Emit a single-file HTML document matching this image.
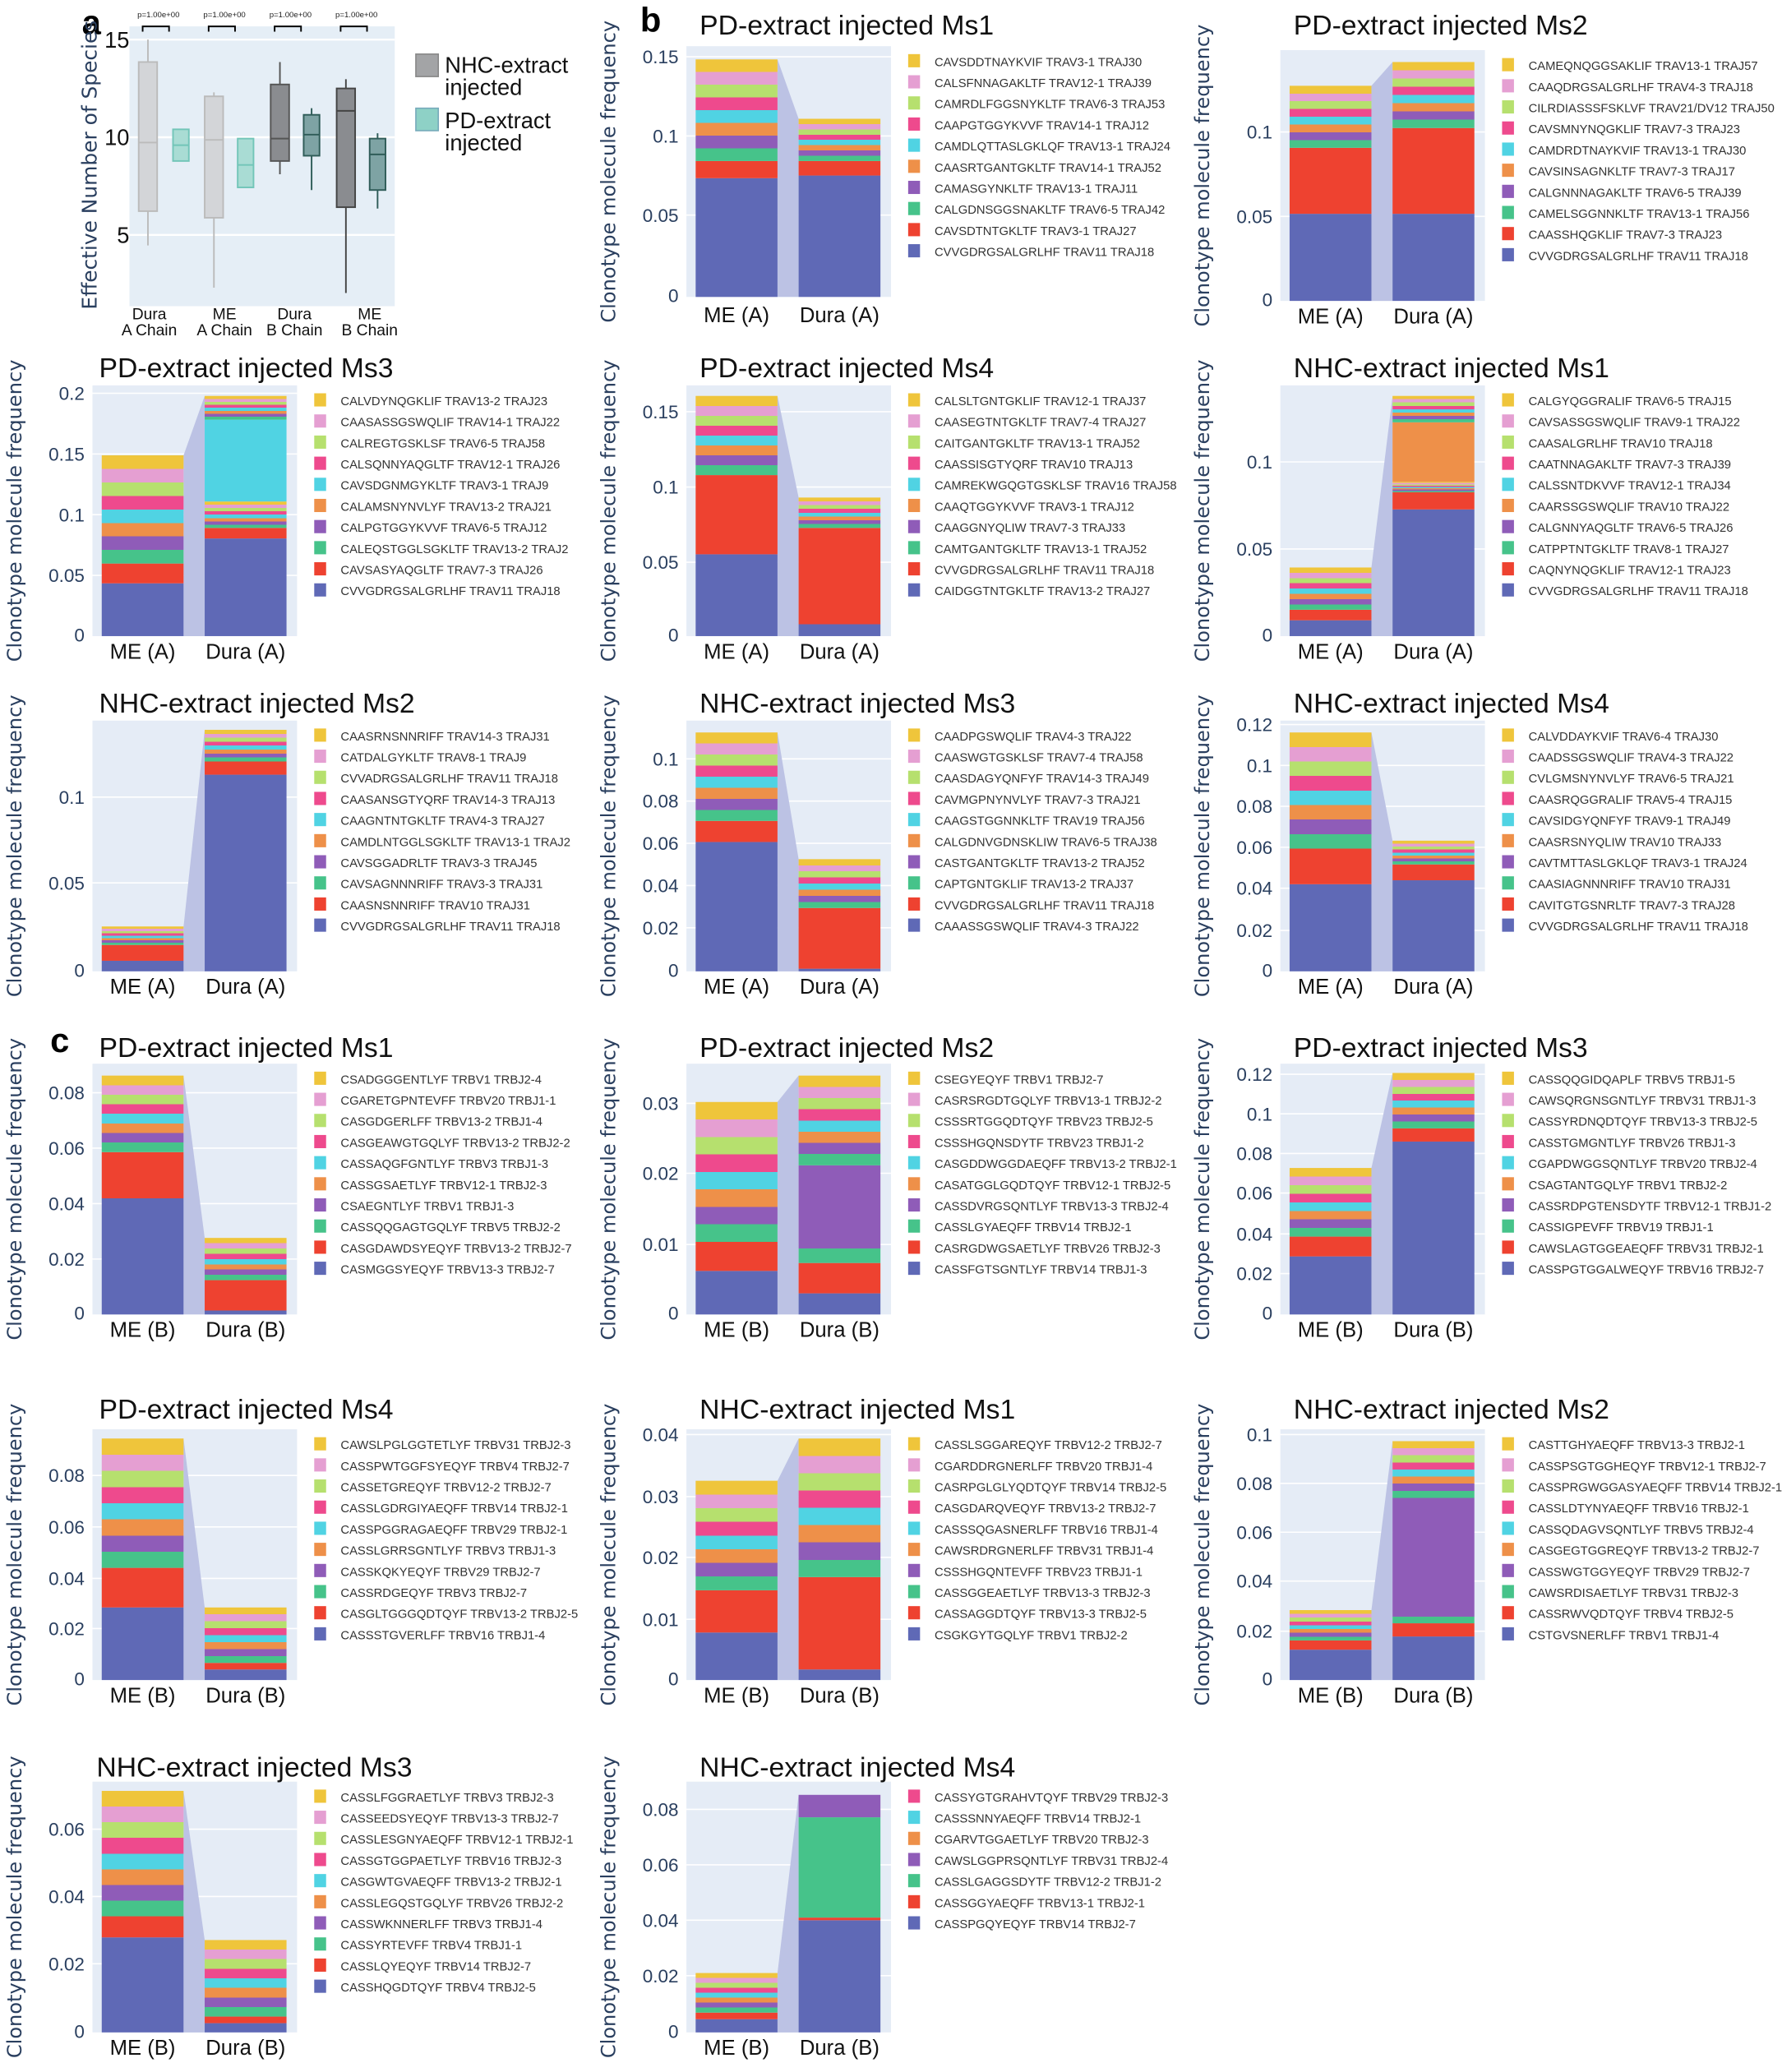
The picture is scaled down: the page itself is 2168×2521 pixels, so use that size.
<!DOCTYPE html>
<html><head><meta charset="utf-8"><style>
body{margin:0;background:#fff}
svg{display:block}
.t{font-family:"Liberation Sans Narrow","Liberation Sans",sans-serif;font-size:21px;fill:#111}
.k{font-family:"Liberation Sans Narrow","Liberation Sans",sans-serif;font-size:14px;fill:#2a3f5f;text-anchor:end}
.x{font-family:"Liberation Sans Narrow","Liberation Sans",sans-serif;font-size:16px;fill:#111;text-anchor:middle}
.y{font-family:"DejaVu Sans",sans-serif;font-size:15px;fill:#2a3f5f;text-anchor:middle}
.l{font-family:"Liberation Sans Narrow","Liberation Sans",sans-serif;font-size:9.2px;fill:#333}
.big{font-family:"Liberation Sans",sans-serif;font-size:26px;font-weight:bold;fill:#000}
</style></head><body>
<svg width="2168" height="2521" viewBox="0 0 1350 1570" xmlns="http://www.w3.org/2000/svg">
<defs>
<linearGradient id="g" x1="0" y1="0" x2="0" y2="1">
<stop offset="0" stop-color="#EFC53B"/><stop offset=".125" stop-color="#EFC53B"/>
<stop offset=".125" stop-color="#E59FD2"/><stop offset=".25" stop-color="#E59FD2"/>
<stop offset=".25" stop-color="#B6E06E"/><stop offset=".375" stop-color="#B6E06E"/>
<stop offset=".375" stop-color="#EE4A8D"/><stop offset=".5" stop-color="#EE4A8D"/>
<stop offset=".5" stop-color="#50D3E3"/><stop offset=".625" stop-color="#50D3E3"/>
<stop offset=".625" stop-color="#EE9049"/><stop offset=".75" stop-color="#EE9049"/>
<stop offset=".75" stop-color="#8F5CB8"/><stop offset=".875" stop-color="#8F5CB8"/>
<stop offset=".875" stop-color="#46C38A"/><stop offset="1" stop-color="#46C38A"/>
</linearGradient>
<g id="leg">
<rect x="168" y="-184" width="9" height="10" fill="#EFC53B"/>
<rect x="168" y="-168" width="9" height="10" fill="#E59FD2"/>
<rect x="168" y="-152" width="9" height="10" fill="#B6E06E"/>
<rect x="168" y="-136" width="9" height="10" fill="#EE4A8D"/>
<rect x="168" y="-120" width="9" height="10" fill="#50D3E3"/>
<rect x="168" y="-104" width="9" height="10" fill="#EE9049"/>
<rect x="168" y="-88" width="9" height="10" fill="#8F5CB8"/>
<rect x="168" y="-72" width="9" height="10" fill="#46C38A"/>
<rect x="168" y="-56" width="9" height="10" fill="#EE4230"/>
<rect x="168" y="-40" width="9" height="10" fill="#5F69B6"/>
</g>
</defs>

<!-- Panel a -->
<text class="big" x="62" y="26">a</text>
<rect x="98" y="20" width="201" height="212" fill="#e5eef6"/>
<line x1="98" y1="30" x2="299" y2="30" stroke="#fff" stroke-width="1.5"/>
<line x1="98" y1="104" x2="299" y2="104" stroke="#fff" stroke-width="1.5"/>
<line x1="98" y1="178" x2="299" y2="178" stroke="#fff" stroke-width="1.5"/>
<text class="y" transform="translate(73,125) rotate(-90)" style="font-size:15.5px">Effective Number of Species</text>
<text class="k" style="font-size:17px;fill:#111" x="98" y="36">15</text>
<text class="k" style="font-size:17px;fill:#111" x="98" y="110">10</text>
<text class="k" style="font-size:17px;fill:#111" x="98" y="184">5</text>
<g font-family="Liberation Sans Narrow,sans-serif" font-size="6" fill="#222" text-anchor="middle">
<text x="120" y="13">p=1.00e+00</text><text x="170" y="13">p=1.00e+00</text><text x="220" y="13">p=1.00e+00</text><text x="270" y="13">p=1.00e+00</text></g>
<g stroke="#000" fill="none" stroke-width="1.2">
<path d="M108 24V20H128V24M158 24V20H178V24M208 24V20H228V24M258 24V20H278V24"/></g>
<g stroke-width="1.2">
<line x1="112" y1="30" x2="112" y2="186" stroke="#bbb"/>
<rect x="105" y="47" width="14" height="113" fill="#d3d5d8" stroke="#bbb"/>
<line x1="105" y1="108" x2="119" y2="108" stroke="#bbb"/>
<rect x="131" y="98" width="12" height="24" fill="#a9dcd4" stroke="#72c5b8"/>
<line x1="131" y1="110" x2="143" y2="110" stroke="#72c5b8"/>
<line x1="162" y1="70" x2="162" y2="218" stroke="#bbb"/>
<rect x="155" y="73" width="14" height="92" fill="#d3d5d8" stroke="#bbb"/>
<line x1="155" y1="106" x2="169" y2="106" stroke="#bbb"/>
<rect x="180" y="105" width="12" height="37" fill="#a9dcd4" stroke="#72c5b8"/>
<line x1="180" y1="125" x2="192" y2="125" stroke="#72c5b8"/>
<line x1="212" y1="47" x2="212" y2="132" stroke="#555"/>
<rect x="205" y="64" width="14" height="58" fill="#8a8c90" stroke="#555"/>
<line x1="205" y1="105" x2="219" y2="105" stroke="#555"/>
<line x1="236" y1="82" x2="236" y2="144" stroke="#2f5c58"/>
<rect x="230" y="87" width="12" height="31" fill="#7ea3a4" stroke="#2f5c58"/>
<line x1="230" y1="102" x2="242" y2="102" stroke="#2f5c58"/>
<line x1="262" y1="60" x2="262" y2="222" stroke="#444"/>
<rect x="255" y="67" width="14" height="90" fill="#8a8c90" stroke="#444"/>
<line x1="255" y1="84" x2="269" y2="84" stroke="#444"/>
<line x1="286" y1="101" x2="286" y2="158" stroke="#2f5c58"/>
<rect x="280" y="105" width="12" height="39" fill="#7ea3a4" stroke="#2f5c58"/>
<line x1="280" y1="117" x2="292" y2="117" stroke="#2f5c58"/>
</g>
<g font-family="Liberation Sans Narrow,sans-serif" font-size="12" fill="#111" text-anchor="middle">
<text x="113" y="242">Dura</text><text x="113" y="254">A Chain</text>
<text x="170" y="242">ME</text><text x="170" y="254">A Chain</text>
<text x="223" y="242">Dura</text><text x="223" y="254">B Chain</text>
<text x="280" y="242">ME</text><text x="280" y="254">B Chain</text></g>
<rect x="315" y="41" width="17" height="17" fill="#a3a4a6" stroke="#888"/>
<rect x="315" y="82" width="17" height="17" fill="#8ed1c6" stroke="#7ab"/>
<g font-family="Liberation Sans Narrow,Liberation Sans,sans-serif" font-size="17" fill="#111">
<text x="337" y="55">NHC-extract</text><text x="337" y="72">injected</text>
<text x="337" y="97">PD-extract</text><text x="337" y="114">injected</text></g>

<text class="big" x="485" y="24">b</text>
<text class="big" x="38" y="797">c</text>

<!-- PDa1 -->
<g transform="translate(520,225)">
<rect x="0" y="-190" width="155" height="190" fill="#e5ecf6"/>
<g stroke="#fff"><line x1="0" y1="-182" x2="155" y2="-182"/><line x1="0" y1="-122" x2="155" y2="-122"/><line x1="0" y1="-62" x2="155" y2="-62"/></g>
<polygon points="69,-180 85,-135 85,0 69,0" fill="#bcc2e4"/>
<rect x="7" y="-90" width="62" height="90" fill="#5F69B6"/><rect x="7" y="-103" width="62" height="13" fill="#EE4230"/><rect x="7" y="-180" width="62" height="77" fill="url(#g)"/>
<rect x="85" y="-92" width="62" height="92" fill="#5F69B6"/><rect x="85" y="-103" width="62" height="11" fill="#EE4230"/><rect x="85" y="-135" width="62" height="32" fill="url(#g)"/>
<text class="k" x="-6" y="-177">0.15</text><text class="k" x="-6" y="-117">0.1</text><text class="k" x="-6" y="-57">0.05</text><text class="k" x="-6" y="4">0</text>
<text class="x" x="38" y="19">ME (A)</text><text class="x" x="116" y="19">Dura (A)</text>
<text class="t" x="10" y="-199">PD-extract injected Ms1</text>
<text class="y" transform="translate(-54,-95) rotate(-90)">Clonotype molecule frequency</text>
<use href="#leg"/>
<g class="l"><text x="188" y="-175">CAVSDDTNAYKVIF TRAV3-1 TRAJ30</text><text x="188" y="-159">CALSFNNAGAKLTF TRAV12-1 TRAJ39</text><text x="188" y="-143">CAMRDLFGGSNYKLTF TRAV6-3 TRAJ53</text><text x="188" y="-127">CAAPGTGGYKVVF TRAV14-1 TRAJ12</text><text x="188" y="-111">CAMDLQTTASLGKLQF TRAV13-1 TRAJ24</text><text x="188" y="-95">CAASRTGANTGKLTF TRAV14-1 TRAJ52</text><text x="188" y="-79">CAMASGYNKLTF TRAV13-1 TRAJ11</text><text x="188" y="-63">CALGDNSGGSNAKLTF TRAV6-5 TRAJ42</text><text x="188" y="-47">CAVSDTNTGKLTF TRAV3-1 TRAJ27</text><text x="188" y="-31">CVVGDRGSALGRLHF TRAV11 TRAJ18</text></g>
</g>

<!-- PDa2 -->
<g transform="translate(970,228)">
<rect x="0" y="-190" width="155" height="190" fill="#e5ecf6"/>
<g stroke="#fff"><line x1="0" y1="-128" x2="155" y2="-128"/><line x1="0" y1="-64" x2="155" y2="-64"/></g>
<polygon points="69,-163 85,-181 85,0 69,0" fill="#bcc2e4"/>
<rect x="7" y="-66" width="62" height="66" fill="#5F69B6"/><rect x="7" y="-116" width="62" height="50" fill="#EE4230"/><rect x="7" y="-163" width="62" height="47" fill="url(#g)"/>
<rect x="85" y="-66" width="62" height="66" fill="#5F69B6"/><rect x="85" y="-131" width="62" height="65" fill="#EE4230"/><rect x="85" y="-181" width="62" height="50" fill="url(#g)"/>
<text class="k" x="-6" y="-123">0.1</text><text class="k" x="-6" y="-59">0.05</text><text class="k" x="-6" y="4">0</text>
<text class="x" x="38" y="17">ME (A)</text><text class="x" x="116" y="17">Dura (A)</text>
<text class="t" x="10" y="-202">PD-extract injected Ms2</text>
<text class="y" transform="translate(-54,-95) rotate(-90)">Clonotype molecule frequency</text>
<use href="#leg"/>
<g class="l"><text x="188" y="-175">CAMEQNQGGSAKLIF TRAV13-1 TRAJ57</text><text x="188" y="-159">CAAQDRGSALGRLHF TRAV4-3 TRAJ18</text><text x="188" y="-143">CILRDIASSSFSKLVF TRAV21/DV12 TRAJ50</text><text x="188" y="-127">CAVSMNYNQGKLIF TRAV7-3 TRAJ23</text><text x="188" y="-111">CAMDRDTNAYKVIF TRAV13-1 TRAJ30</text><text x="188" y="-95">CAVSINSAGNKLTF TRAV7-3 TRAJ17</text><text x="188" y="-79">CALGNNNAGAKLTF TRAV6-5 TRAJ39</text><text x="188" y="-63">CAMELSGGNNKLTF TRAV13-1 TRAJ56</text><text x="188" y="-47">CAASSHQGKLIF TRAV7-3 TRAJ23</text><text x="188" y="-31">CVVGDRGSALGRLHF TRAV11 TRAJ18</text></g>
</g>

<!-- PDa3 -->
<g transform="translate(70,482)">
<rect x="0" y="-190" width="155" height="190" fill="#e5ecf6"/>
<g stroke="#fff"><line x1="0" y1="-184" x2="155" y2="-184"/><line x1="0" y1="-138" x2="155" y2="-138"/><line x1="0" y1="-92" x2="155" y2="-92"/><line x1="0" y1="-46" x2="155" y2="-46"/></g>
<polygon points="69,-137 85,-182 85,0 69,0" fill="#bcc2e4"/>
<rect x="7" y="-40" width="62" height="40" fill="#5F69B6"/><rect x="7" y="-55" width="62" height="15" fill="#EE4230"/><rect x="7" y="-137" width="62" height="82" fill="url(#g)"/>
<rect x="85" y="-74" width="62" height="74" fill="#5F69B6"/><rect x="85" y="-82" width="62" height="8" fill="#EE4230"/><rect x="85" y="-102" width="62" height="20" fill="url(#g)"/><rect x="85" y="-164" width="62" height="62" fill="#50D3E3"/><rect x="85" y="-182" width="62" height="18" fill="url(#g)"/>
<text class="k" x="-6" y="-179">0.2</text><text class="k" x="-6" y="-133">0.15</text><text class="k" x="-6" y="-87">0.1</text><text class="k" x="-6" y="-41">0.05</text><text class="k" x="-6" y="4">0</text>
<text class="x" x="38" y="17">ME (A)</text><text class="x" x="116" y="17">Dura (A)</text>
<text class="t" x="5" y="-196">PD-extract injected Ms3</text>
<text class="y" transform="translate(-54,-95) rotate(-90)">Clonotype molecule frequency</text>
<use href="#leg"/>
<g class="l"><text x="188" y="-175">CALVDYNQGKLIF TRAV13-2 TRAJ23</text><text x="188" y="-159">CAASASSGSWQLIF TRAV14-1 TRAJ22</text><text x="188" y="-143">CALREGTGSKLSF TRAV6-5 TRAJ58</text><text x="188" y="-127">CALSQNNYAQGLTF TRAV12-1 TRAJ26</text><text x="188" y="-111">CAVSDGNMGYKLTF TRAV3-1 TRAJ9</text><text x="188" y="-95">CALAMSNYNVLYF TRAV13-2 TRAJ21</text><text x="188" y="-79">CALPGTGGYKVVF TRAV6-5 TRAJ12</text><text x="188" y="-63">CALEQSTGGLSGKLTF TRAV13-2 TRAJ2</text><text x="188" y="-47">CAVSASYAQGLTF TRAV7-3 TRAJ26</text><text x="188" y="-31">CVVGDRGSALGRLHF TRAV11 TRAJ18</text></g>
</g>

<!-- PDa4 -->
<g transform="translate(520,482)">
<rect x="0" y="-190" width="155" height="190" fill="#e5ecf6"/>
<g stroke="#fff"><line x1="0" y1="-170" x2="155" y2="-170"/><line x1="0" y1="-113" x2="155" y2="-113"/><line x1="0" y1="-56" x2="155" y2="-56"/></g>
<polygon points="69,-182 85,-105 85,0 69,0" fill="#bcc2e4"/>
<rect x="7" y="-62" width="62" height="62" fill="#5F69B6"/><rect x="7" y="-122" width="62" height="60" fill="#EE4230"/><rect x="7" y="-182" width="62" height="60" fill="url(#g)"/>
<rect x="85" y="-9" width="62" height="9" fill="#5F69B6"/><rect x="85" y="-82" width="62" height="73" fill="#EE4230"/><rect x="85" y="-105" width="62" height="23" fill="url(#g)"/>
<text class="k" x="-6" y="-165">0.15</text><text class="k" x="-6" y="-108">0.1</text><text class="k" x="-6" y="-51">0.05</text><text class="k" x="-6" y="4">0</text>
<text class="x" x="38" y="17">ME (A)</text><text class="x" x="116" y="17">Dura (A)</text>
<text class="t" x="10" y="-196">PD-extract injected Ms4</text>
<text class="y" transform="translate(-54,-95) rotate(-90)">Clonotype molecule frequency</text>
<use href="#leg"/>
<g class="l"><text x="188" y="-175">CALSLTGNTGKLIF TRAV12-1 TRAJ37</text><text x="188" y="-159">CAASEGTNTGKLTF TRAV7-4 TRAJ27</text><text x="188" y="-143">CAITGANTGKLTF TRAV13-1 TRAJ52</text><text x="188" y="-127">CAASSISGTYQRF TRAV10 TRAJ13</text><text x="188" y="-111">CAMREKWGQGTGSKLSF TRAV16 TRAJ58</text><text x="188" y="-95">CAAQTGGYKVVF TRAV3-1 TRAJ12</text><text x="188" y="-79">CAAGGNYQLIW TRAV7-3 TRAJ33</text><text x="188" y="-63">CAMTGANTGKLTF TRAV13-1 TRAJ52</text><text x="188" y="-47">CVVGDRGSALGRLHF TRAV11 TRAJ18</text><text x="188" y="-31">CAIDGGTNTGKLTF TRAV13-2 TRAJ27</text></g>
</g>

<!-- NHCa1 -->
<g transform="translate(970,482)">
<rect x="0" y="-190" width="155" height="190" fill="#e5ecf6"/>
<g stroke="#fff"><line x1="0" y1="-132" x2="155" y2="-132"/><line x1="0" y1="-66" x2="155" y2="-66"/></g>
<polygon points="69,-52 85,-182 85,0 69,0" fill="#bcc2e4"/>
<rect x="7" y="-12" width="62" height="12" fill="#5F69B6"/><rect x="7" y="-20" width="62" height="8" fill="#EE4230"/><rect x="7" y="-52" width="62" height="32" fill="url(#g)"/>
<rect x="85" y="-96" width="62" height="96" fill="#5F69B6"/><rect x="85" y="-109" width="62" height="13" fill="#EE4230"/><rect x="85" y="-117" width="62" height="8" fill="url(#g)"/><rect x="85" y="-162" width="62" height="45" fill="#EE9049"/><rect x="85" y="-182" width="62" height="20" fill="url(#g)"/>
<text class="k" x="-6" y="-127">0.1</text><text class="k" x="-6" y="-61">0.05</text><text class="k" x="-6" y="4">0</text>
<text class="x" x="38" y="17">ME (A)</text><text class="x" x="116" y="17">Dura (A)</text>
<text class="t" x="10" y="-196">NHC-extract injected Ms1</text>
<text class="y" transform="translate(-54,-95) rotate(-90)">Clonotype molecule frequency</text>
<use href="#leg"/>
<g class="l"><text x="188" y="-175">CALGYQGGRALIF TRAV6-5 TRAJ15</text><text x="188" y="-159">CAVSASSGSWQLIF TRAV9-1 TRAJ22</text><text x="188" y="-143">CAASALGRLHF TRAV10 TRAJ18</text><text x="188" y="-127">CAATNNAGAKLTF TRAV7-3 TRAJ39</text><text x="188" y="-111">CALSSNTDKVVF TRAV12-1 TRAJ34</text><text x="188" y="-95">CAARSSGSWQLIF TRAV10 TRAJ22</text><text x="188" y="-79">CALGNNYAQGLTF TRAV6-5 TRAJ26</text><text x="188" y="-63">CATPPTNTGKLTF TRAV8-1 TRAJ27</text><text x="188" y="-47">CAQNYNQGKLIF TRAV12-1 TRAJ23</text><text x="188" y="-31">CVVGDRGSALGRLHF TRAV11 TRAJ18</text></g>
</g>

<!-- NHCa2 -->
<g transform="translate(70,736)">
<rect x="0" y="-190" width="155" height="190" fill="#e5ecf6"/>
<g stroke="#fff"><line x1="0" y1="-132" x2="155" y2="-132"/><line x1="0" y1="-67" x2="155" y2="-67"/></g>
<polygon points="69,-34 85,-183 85,0 69,0" fill="#bcc2e4"/>
<rect x="7" y="-8" width="62" height="8" fill="#5F69B6"/><rect x="7" y="-20" width="62" height="12" fill="#EE4230"/><rect x="7" y="-34" width="62" height="14" fill="url(#g)"/>
<rect x="85" y="-149" width="62" height="149" fill="#5F69B6"/><rect x="85" y="-159" width="62" height="10" fill="#EE4230"/><rect x="85" y="-183" width="62" height="24" fill="url(#g)"/>
<text class="k" x="-6" y="-127">0.1</text><text class="k" x="-6" y="-62">0.05</text><text class="k" x="-6" y="4">0</text>
<text class="x" x="38" y="17">ME (A)</text><text class="x" x="116" y="17">Dura (A)</text>
<text class="t" x="5" y="-196">NHC-extract injected Ms2</text>
<text class="y" transform="translate(-54,-95) rotate(-90)">Clonotype molecule frequency</text>
<use href="#leg"/>
<g class="l"><text x="188" y="-175">CAASRNSNNRIFF TRAV14-3 TRAJ31</text><text x="188" y="-159">CATDALGYKLTF TRAV8-1 TRAJ9</text><text x="188" y="-143">CVVADRGSALGRLHF TRAV11 TRAJ18</text><text x="188" y="-127">CAASANSGTYQRF TRAV14-3 TRAJ13</text><text x="188" y="-111">CAAGNTNTGKLTF TRAV4-3 TRAJ27</text><text x="188" y="-95">CAMDLNTGGLSGKLTF TRAV13-1 TRAJ2</text><text x="188" y="-79">CAVSGGADRLTF TRAV3-3 TRAJ45</text><text x="188" y="-63">CAVSAGNNNRIFF TRAV3-3 TRAJ31</text><text x="188" y="-47">CAASNSNNRIFF TRAV10 TRAJ31</text><text x="188" y="-31">CVVGDRGSALGRLHF TRAV11 TRAJ18</text></g>
</g>

<!-- NHCa3 -->
<g transform="translate(520,736)">
<rect x="0" y="-190" width="155" height="190" fill="#e5ecf6"/>
<g stroke="#fff"><line x1="0" y1="-161" x2="155" y2="-161"/><line x1="0" y1="-129" x2="155" y2="-129"/><line x1="0" y1="-97" x2="155" y2="-97"/><line x1="0" y1="-65" x2="155" y2="-65"/><line x1="0" y1="-33" x2="155" y2="-33"/></g>
<polygon points="69,-181 85,-85 85,0 69,0" fill="#bcc2e4"/>
<rect x="7" y="-98" width="62" height="98" fill="#5F69B6"/><rect x="7" y="-114" width="62" height="16" fill="#EE4230"/><rect x="7" y="-181" width="62" height="67" fill="url(#g)"/>
<rect x="85" y="-2" width="62" height="2" fill="#5F69B6"/><rect x="85" y="-48" width="62" height="46" fill="#EE4230"/><rect x="85" y="-85" width="62" height="37" fill="url(#g)"/>
<text class="k" x="-6" y="-156">0.1</text><text class="k" x="-6" y="-124">0.08</text><text class="k" x="-6" y="-92">0.06</text><text class="k" x="-6" y="-60">0.04</text><text class="k" x="-6" y="-28">0.02</text><text class="k" x="-6" y="4">0</text>
<text class="x" x="38" y="17">ME (A)</text><text class="x" x="116" y="17">Dura (A)</text>
<text class="t" x="10" y="-196">NHC-extract injected Ms3</text>
<text class="y" transform="translate(-54,-95) rotate(-90)">Clonotype molecule frequency</text>
<use href="#leg"/>
<g class="l"><text x="188" y="-175">CAADPGSWQLIF TRAV4-3 TRAJ22</text><text x="188" y="-159">CAASWGTGSKLSF TRAV7-4 TRAJ58</text><text x="188" y="-143">CAASDAGYQNFYF TRAV14-3 TRAJ49</text><text x="188" y="-127">CAVMGPNYNVLYF TRAV7-3 TRAJ21</text><text x="188" y="-111">CAAGSTGGNNKLTF TRAV19 TRAJ56</text><text x="188" y="-95">CALGDNVGDNSKLIW TRAV6-5 TRAJ38</text><text x="188" y="-79">CASTGANTGKLTF TRAV13-2 TRAJ52</text><text x="188" y="-63">CAPTGNTGKLIF TRAV13-2 TRAJ37</text><text x="188" y="-47">CVVGDRGSALGRLHF TRAV11 TRAJ18</text><text x="188" y="-31">CAAASSGSWQLIF TRAV4-3 TRAJ22</text></g>
</g>

<!-- NHCa4 -->
<g transform="translate(970,736)">
<rect x="0" y="-190" width="155" height="190" fill="#e5ecf6"/>
<g stroke="#fff"><line x1="0" y1="-187" x2="155" y2="-187"/><line x1="0" y1="-156" x2="155" y2="-156"/><line x1="0" y1="-125" x2="155" y2="-125"/><line x1="0" y1="-94" x2="155" y2="-94"/><line x1="0" y1="-63" x2="155" y2="-63"/><line x1="0" y1="-31" x2="155" y2="-31"/></g>
<polygon points="69,-181 85,-99 85,0 69,0" fill="#bcc2e4"/>
<rect x="7" y="-66" width="62" height="66" fill="#5F69B6"/><rect x="7" y="-93" width="62" height="27" fill="#EE4230"/><rect x="7" y="-181" width="62" height="88" fill="url(#g)"/>
<rect x="85" y="-69" width="62" height="69" fill="#5F69B6"/><rect x="85" y="-81" width="62" height="12" fill="#EE4230"/><rect x="85" y="-99" width="62" height="18" fill="url(#g)"/>
<text class="k" x="-6" y="-182">0.12</text><text class="k" x="-6" y="-151">0.1</text><text class="k" x="-6" y="-120">0.08</text><text class="k" x="-6" y="-89">0.06</text><text class="k" x="-6" y="-58">0.04</text><text class="k" x="-6" y="-26">0.02</text><text class="k" x="-6" y="4">0</text>
<text class="x" x="38" y="17">ME (A)</text><text class="x" x="116" y="17">Dura (A)</text>
<text class="t" x="10" y="-196">NHC-extract injected Ms4</text>
<text class="y" transform="translate(-54,-95) rotate(-90)">Clonotype molecule frequency</text>
<use href="#leg"/>
<g class="l"><text x="188" y="-175">CALVDDAYKVIF TRAV6-4 TRAJ30</text><text x="188" y="-159">CAADSSGSWQLIF TRAV4-3 TRAJ22</text><text x="188" y="-143">CVLGMSNYNVLYF TRAV6-5 TRAJ21</text><text x="188" y="-127">CAASRQGGRALIF TRAV5-4 TRAJ15</text><text x="188" y="-111">CAVSIDGYQNFYF TRAV9-1 TRAJ49</text><text x="188" y="-95">CAASRSNYQLIW TRAV10 TRAJ33</text><text x="188" y="-79">CAVTMTTASLGKLQF TRAV3-1 TRAJ24</text><text x="188" y="-63">CAASIAGNNNRIFF TRAV10 TRAJ31</text><text x="188" y="-47">CAVITGTGSNRLTF TRAV7-3 TRAJ28</text><text x="188" y="-31">CVVGDRGSALGRLHF TRAV11 TRAJ18</text></g>
</g>

<!-- PDb1 -->
<g transform="translate(70,996)">
<rect x="0" y="-190" width="155" height="190" fill="#e5ecf6"/>
<g stroke="#fff"><line x1="0" y1="-168" x2="155" y2="-168"/><line x1="0" y1="-126" x2="155" y2="-126"/><line x1="0" y1="-84" x2="155" y2="-84"/><line x1="0" y1="-42" x2="155" y2="-42"/></g>
<polygon points="69,-181 85,-58 85,0 69,0" fill="#bcc2e4"/>
<rect x="7" y="-88" width="62" height="88" fill="#5F69B6"/><rect x="7" y="-123" width="62" height="35" fill="#EE4230"/><rect x="7" y="-181" width="62" height="58" fill="url(#g)"/>
<rect x="85" y="-3" width="62" height="3" fill="#5F69B6"/><rect x="85" y="-26" width="62" height="23" fill="#EE4230"/><rect x="85" y="-58" width="62" height="32" fill="url(#g)"/>
<text class="k" x="-6" y="-163">0.08</text><text class="k" x="-6" y="-121">0.06</text><text class="k" x="-6" y="-79">0.04</text><text class="k" x="-6" y="-37">0.02</text><text class="k" x="-6" y="4">0</text>
<text class="x" x="38" y="17">ME (B)</text><text class="x" x="116" y="17">Dura (B)</text>
<text class="t" x="5" y="-195">PD-extract injected Ms1</text>
<text class="y" transform="translate(-54,-95) rotate(-90)">Clonotype molecule frequency</text>
<use href="#leg"/>
<g class="l"><text x="188" y="-175">CSADGGGENTLYF TRBV1 TRBJ2-4</text><text x="188" y="-159">CGARETGPNTEVFF TRBV20 TRBJ1-1</text><text x="188" y="-143">CASGDGERLFF TRBV13-2 TRBJ1-4</text><text x="188" y="-127">CASGEAWGTGQLYF TRBV13-2 TRBJ2-2</text><text x="188" y="-111">CASSAQGFGNTLYF TRBV3 TRBJ1-3</text><text x="188" y="-95">CASSGSAETLYF TRBV12-1 TRBJ2-3</text><text x="188" y="-79">CSAEGNTLYF TRBV1 TRBJ1-3</text><text x="188" y="-63">CASSQQGAGTGQLYF TRBV5 TRBJ2-2</text><text x="188" y="-47">CASGDAWDSYEQYF TRBV13-2 TRBJ2-7</text><text x="188" y="-31">CASMGGSYEQYF TRBV13-3 TRBJ2-7</text></g>
</g>

<!-- PDb2 -->
<g transform="translate(520,996)">
<rect x="0" y="-190" width="155" height="190" fill="#e5ecf6"/>
<g stroke="#fff"><line x1="0" y1="-160" x2="155" y2="-160"/><line x1="0" y1="-107" x2="155" y2="-107"/><line x1="0" y1="-53" x2="155" y2="-53"/></g>
<polygon points="69,-161 85,-181 85,0 69,0" fill="#bcc2e4"/>
<rect x="7" y="-33" width="62" height="33" fill="#5F69B6"/><rect x="7" y="-55" width="62" height="22" fill="#EE4230"/><rect x="7" y="-161" width="62" height="106" fill="url(#g)"/>
<rect x="85" y="-16" width="62" height="16" fill="#5F69B6"/><rect x="85" y="-39" width="62" height="23" fill="#EE4230"/><rect x="85" y="-50" width="62" height="11" fill="#46C38A"/><rect x="85" y="-113" width="62" height="63" fill="#8F5CB8"/><rect x="85" y="-181" width="62" height="68" fill="url(#g)"/>
<text class="k" x="-6" y="-155">0.03</text><text class="k" x="-6" y="-102">0.02</text><text class="k" x="-6" y="-48">0.01</text><text class="k" x="-6" y="4">0</text>
<text class="x" x="38" y="17">ME (B)</text><text class="x" x="116" y="17">Dura (B)</text>
<text class="t" x="10" y="-195">PD-extract injected Ms2</text>
<text class="y" transform="translate(-54,-95) rotate(-90)">Clonotype molecule frequency</text>
<use href="#leg"/>
<g class="l"><text x="188" y="-175">CSEGYEQYF TRBV1 TRBJ2-7</text><text x="188" y="-159">CASRSRGDTGQLYF TRBV13-1 TRBJ2-2</text><text x="188" y="-143">CSSSRTGGQDTQYF TRBV23 TRBJ2-5</text><text x="188" y="-127">CSSSHGQNSDYTF TRBV23 TRBJ1-2</text><text x="188" y="-111">CASGDDWGGDAEQFF TRBV13-2 TRBJ2-1</text><text x="188" y="-95">CASATGGLGQDTQYF TRBV12-1 TRBJ2-5</text><text x="188" y="-79">CASSDVRGSQNTLYF TRBV13-3 TRBJ2-4</text><text x="188" y="-63">CASSLGYAEQFF TRBV14 TRBJ2-1</text><text x="188" y="-47">CASRGDWGSAETLYF TRBV26 TRBJ2-3</text><text x="188" y="-31">CASSFGTSGNTLYF TRBV14 TRBJ1-3</text></g>
</g>

<!-- PDb3 -->
<g transform="translate(970,996)">
<rect x="0" y="-190" width="155" height="190" fill="#e5ecf6"/>
<g stroke="#fff"><line x1="0" y1="-182" x2="155" y2="-182"/><line x1="0" y1="-152" x2="155" y2="-152"/><line x1="0" y1="-122" x2="155" y2="-122"/><line x1="0" y1="-92" x2="155" y2="-92"/><line x1="0" y1="-61" x2="155" y2="-61"/><line x1="0" y1="-31" x2="155" y2="-31"/></g>
<polygon points="69,-111 85,-183 85,0 69,0" fill="#bcc2e4"/>
<rect x="7" y="-44" width="62" height="44" fill="#5F69B6"/><rect x="7" y="-59" width="62" height="15" fill="#EE4230"/><rect x="7" y="-111" width="62" height="52" fill="url(#g)"/>
<rect x="85" y="-131" width="62" height="131" fill="#5F69B6"/><rect x="85" y="-141" width="62" height="10" fill="#EE4230"/><rect x="85" y="-183" width="62" height="42" fill="url(#g)"/>
<text class="k" x="-6" y="-177">0.12</text><text class="k" x="-6" y="-147">0.1</text><text class="k" x="-6" y="-117">0.08</text><text class="k" x="-6" y="-87">0.06</text><text class="k" x="-6" y="-56">0.04</text><text class="k" x="-6" y="-26">0.02</text><text class="k" x="-6" y="4">0</text>
<text class="x" x="38" y="17">ME (B)</text><text class="x" x="116" y="17">Dura (B)</text>
<text class="t" x="10" y="-195">PD-extract injected Ms3</text>
<text class="y" transform="translate(-54,-95) rotate(-90)">Clonotype molecule frequency</text>
<use href="#leg"/>
<g class="l"><text x="188" y="-175">CASSQQGIDQAPLF TRBV5 TRBJ1-5</text><text x="188" y="-159">CAWSQRGNSGNTLYF TRBV31 TRBJ1-3</text><text x="188" y="-143">CASSYRDNQDTQYF TRBV13-3 TRBJ2-5</text><text x="188" y="-127">CASSTGMGNTLYF TRBV26 TRBJ1-3</text><text x="188" y="-111">CGAPDWGGSQNTLYF TRBV20 TRBJ2-4</text><text x="188" y="-95">CSAGTANTGQLYF TRBV1 TRBJ2-2</text><text x="188" y="-79">CASSRDPGTENSDYTF TRBV12-1 TRBJ1-2</text><text x="188" y="-63">CASSIGPEVFF TRBV19 TRBJ1-1</text><text x="188" y="-47">CAWSLAGTGGEAEQFF TRBV31 TRBJ2-1</text><text x="188" y="-31">CASSPGTGGALWEQYF TRBV16 TRBJ2-7</text></g>
</g>

<!-- PDb4 -->
<g transform="translate(70,1273)">
<rect x="0" y="-190" width="155" height="190" fill="#e5ecf6"/>
<g stroke="#fff"><line x1="0" y1="-155" x2="155" y2="-155"/><line x1="0" y1="-116" x2="155" y2="-116"/><line x1="0" y1="-77" x2="155" y2="-77"/><line x1="0" y1="-39" x2="155" y2="-39"/></g>
<polygon points="69,-183 85,-55 85,0 69,0" fill="#bcc2e4"/>
<rect x="7" y="-55" width="62" height="55" fill="#5F69B6"/><rect x="7" y="-85" width="62" height="30" fill="#EE4230"/><rect x="7" y="-183" width="62" height="98" fill="url(#g)"/>
<rect x="85" y="-8" width="62" height="8" fill="#5F69B6"/><rect x="85" y="-13" width="62" height="5" fill="#EE4230"/><rect x="85" y="-55" width="62" height="42" fill="url(#g)"/>
<text class="k" x="-6" y="-150">0.08</text><text class="k" x="-6" y="-111">0.06</text><text class="k" x="-6" y="-72">0.04</text><text class="k" x="-6" y="-34">0.02</text><text class="k" x="-6" y="4">0</text>
<text class="x" x="38" y="17">ME (B)</text><text class="x" x="116" y="17">Dura (B)</text>
<text class="t" x="5" y="-198">PD-extract injected Ms4</text>
<text class="y" transform="translate(-54,-95) rotate(-90)">Clonotype molecule frequency</text>
<use href="#leg"/>
<g class="l"><text x="188" y="-175">CAWSLPGLGGTETLYF TRBV31 TRBJ2-3</text><text x="188" y="-159">CASSPWTGGFSYEQYF TRBV4 TRBJ2-7</text><text x="188" y="-143">CASSETGREQYF TRBV12-2 TRBJ2-7</text><text x="188" y="-127">CASSLGDRGIYAEQFF TRBV14 TRBJ2-1</text><text x="188" y="-111">CASSPGGRAGAEQFF TRBV29 TRBJ2-1</text><text x="188" y="-95">CASSLGRRSGNTLYF TRBV3 TRBJ1-3</text><text x="188" y="-79">CASSKQKYEQYF TRBV29 TRBJ2-7</text><text x="188" y="-63">CASSRDGEQYF TRBV3 TRBJ2-7</text><text x="188" y="-47">CASGLTGGGQDTQYF TRBV13-2 TRBJ2-5</text><text x="188" y="-31">CASSSTGVERLFF TRBV16 TRBJ1-4</text></g>
</g>

<!-- NHCb1 -->
<g transform="translate(520,1273)">
<rect x="0" y="-190" width="155" height="190" fill="#e5ecf6"/>
<g stroke="#fff"><line x1="0" y1="-186" x2="155" y2="-186"/><line x1="0" y1="-139" x2="155" y2="-139"/><line x1="0" y1="-93" x2="155" y2="-93"/><line x1="0" y1="-46" x2="155" y2="-46"/></g>
<polygon points="69,-151 85,-183 85,0 69,0" fill="#bcc2e4"/>
<rect x="7" y="-36" width="62" height="36" fill="#5F69B6"/><rect x="7" y="-68" width="62" height="32" fill="#EE4230"/><rect x="7" y="-151" width="62" height="83" fill="url(#g)"/>
<rect x="85" y="-8" width="62" height="8" fill="#5F69B6"/><rect x="85" y="-78" width="62" height="70" fill="#EE4230"/><rect x="85" y="-183" width="62" height="105" fill="url(#g)"/>
<text class="k" x="-6" y="-181">0.04</text><text class="k" x="-6" y="-134">0.03</text><text class="k" x="-6" y="-88">0.02</text><text class="k" x="-6" y="-41">0.01</text><text class="k" x="-6" y="4">0</text>
<text class="x" x="38" y="17">ME (B)</text><text class="x" x="116" y="17">Dura (B)</text>
<text class="t" x="10" y="-198">NHC-extract injected Ms1</text>
<text class="y" transform="translate(-54,-95) rotate(-90)">Clonotype molecule frequency</text>
<use href="#leg"/>
<g class="l"><text x="188" y="-175">CASSLSGGAREQYF TRBV12-2 TRBJ2-7</text><text x="188" y="-159">CGARDDRGNERLFF TRBV20 TRBJ1-4</text><text x="188" y="-143">CASRPGLGLYQDTQYF TRBV14 TRBJ2-5</text><text x="188" y="-127">CASGDARQVEQYF TRBV13-2 TRBJ2-7</text><text x="188" y="-111">CASSSQGASNERLFF TRBV16 TRBJ1-4</text><text x="188" y="-95">CAWSRDRGNERLFF TRBV31 TRBJ1-4</text><text x="188" y="-79">CSSSHGQNTEVFF TRBV23 TRBJ1-1</text><text x="188" y="-63">CASSGGEAETLYF TRBV13-3 TRBJ2-3</text><text x="188" y="-47">CASSAGGDTQYF TRBV13-3 TRBJ2-5</text><text x="188" y="-31">CSGKGYTGQLYF TRBV1 TRBJ2-2</text></g>
</g>

<!-- NHCb2 -->
<g transform="translate(970,1273)">
<rect x="0" y="-190" width="155" height="190" fill="#e5ecf6"/>
<g stroke="#fff"><line x1="0" y1="-186" x2="155" y2="-186"/><line x1="0" y1="-149" x2="155" y2="-149"/><line x1="0" y1="-112" x2="155" y2="-112"/><line x1="0" y1="-75" x2="155" y2="-75"/><line x1="0" y1="-37" x2="155" y2="-37"/></g>
<polygon points="69,-53 85,-181 85,0 69,0" fill="#bcc2e4"/>
<rect x="7" y="-23" width="62" height="23" fill="#5F69B6"/><rect x="7" y="-30" width="62" height="7" fill="#EE4230"/><rect x="7" y="-53" width="62" height="23" fill="url(#g)"/>
<rect x="85" y="-33" width="62" height="33" fill="#5F69B6"/><rect x="85" y="-43" width="62" height="10" fill="#EE4230"/><rect x="85" y="-48" width="62" height="5" fill="#46C38A"/><rect x="85" y="-138" width="62" height="90" fill="#8F5CB8"/><rect x="85" y="-181" width="62" height="43" fill="url(#g)"/>
<text class="k" x="-6" y="-181">0.1</text><text class="k" x="-6" y="-144">0.08</text><text class="k" x="-6" y="-107">0.06</text><text class="k" x="-6" y="-70">0.04</text><text class="k" x="-6" y="-32">0.02</text><text class="k" x="-6" y="4">0</text>
<text class="x" x="38" y="17">ME (B)</text><text class="x" x="116" y="17">Dura (B)</text>
<text class="t" x="10" y="-198">NHC-extract injected Ms2</text>
<text class="y" transform="translate(-54,-95) rotate(-90)">Clonotype molecule frequency</text>
<use href="#leg"/>
<g class="l"><text x="188" y="-175">CASTTGHYAEQFF TRBV13-3 TRBJ2-1</text><text x="188" y="-159">CASSPSGTGGHEQYF TRBV12-1 TRBJ2-7</text><text x="188" y="-143">CASSPRGWGGASYAEQFF TRBV14 TRBJ2-1</text><text x="188" y="-127">CASSLDTYNYAEQFF TRBV16 TRBJ2-1</text><text x="188" y="-111">CASSQDAGVSQNTLYF TRBV5 TRBJ2-4</text><text x="188" y="-95">CASGEGTGGREQYF TRBV13-2 TRBJ2-7</text><text x="188" y="-79">CASSWGTGGYEQYF TRBV29 TRBJ2-7</text><text x="188" y="-63">CAWSRDISAETLYF TRBV31 TRBJ2-3</text><text x="188" y="-47">CASSRWVQDTQYF TRBV4 TRBJ2-5</text><text x="188" y="-31">CSTGVSNERLFF TRBV1 TRBJ1-4</text></g>
</g>

<!-- NHCb3 -->
<g transform="translate(70,1540)">
<rect x="0" y="-190" width="155" height="190" fill="#e5ecf6"/>
<g stroke="#fff"><line x1="0" y1="-154" x2="155" y2="-154"/><line x1="0" y1="-103" x2="155" y2="-103"/><line x1="0" y1="-52" x2="155" y2="-52"/></g>
<polygon points="69,-183 85,-70 85,0 69,0" fill="#bcc2e4"/>
<rect x="7" y="-72" width="62" height="72" fill="#5F69B6"/><rect x="7" y="-88" width="62" height="16" fill="#EE4230"/><rect x="7" y="-183" width="62" height="95" fill="url(#g)"/>
<rect x="85" y="-7" width="62" height="7" fill="#5F69B6"/><rect x="85" y="-12" width="62" height="5" fill="#EE4230"/><rect x="85" y="-70" width="62" height="58" fill="url(#g)"/>
<text class="k" x="-6" y="-149">0.06</text><text class="k" x="-6" y="-98">0.04</text><text class="k" x="-6" y="-47">0.02</text><text class="k" x="-6" y="4">0</text>
<text class="x" x="38" y="17">ME (B)</text><text class="x" x="116" y="17">Dura (B)</text>
<text class="t" x="3" y="-194">NHC-extract injected Ms3</text>
<text class="y" transform="translate(-54,-95) rotate(-90)">Clonotype molecule frequency</text>
<use href="#leg"/>
<g class="l"><text x="188" y="-175">CASSLFGGRAETLYF TRBV3 TRBJ2-3</text><text x="188" y="-159">CASSEEDSYEQYF TRBV13-3 TRBJ2-7</text><text x="188" y="-143">CASSLESGNYAEQFF TRBV12-1 TRBJ2-1</text><text x="188" y="-127">CASSGTGGPAETLYF TRBV16 TRBJ2-3</text><text x="188" y="-111">CASGWTGVAEQFF TRBV13-2 TRBJ2-1</text><text x="188" y="-95">CASSLEGQSTGQLYF TRBV26 TRBJ2-2</text><text x="188" y="-79">CASSWKNNERLFF TRBV3 TRBJ1-4</text><text x="188" y="-63">CASSYRTEVFF TRBV4 TRBJ1-1</text><text x="188" y="-47">CASSLQYEQYF TRBV14 TRBJ2-7</text><text x="188" y="-31">CASSHQGDTQYF TRBV4 TRBJ2-5</text></g>
</g>

<!-- NHCb4 -->
<g transform="translate(520,1540)">
<rect x="0" y="-190" width="155" height="190" fill="#e5ecf6"/>
<g stroke="#fff"><line x1="0" y1="-169" x2="155" y2="-169"/><line x1="0" y1="-127" x2="155" y2="-127"/><line x1="0" y1="-85" x2="155" y2="-85"/><line x1="0" y1="-43" x2="155" y2="-43"/></g>
<polygon points="69,-45 85,-180 85,0 69,0" fill="#bcc2e4"/>
<rect x="7" y="-10" width="62" height="10" fill="#5F69B6"/><rect x="7" y="-15" width="62" height="5" fill="#EE4230"/><rect x="7" y="-45" width="62" height="30" fill="url(#g)"/>
<rect x="85" y="-85" width="62" height="85" fill="#5F69B6"/><rect x="85" y="-87" width="62" height="2" fill="#EE4230"/><rect x="85" y="-163" width="62" height="76" fill="#46C38A"/><rect x="85" y="-180" width="62" height="17" fill="#8F5CB8"/>
<text class="k" x="-6" y="-164">0.08</text><text class="k" x="-6" y="-122">0.06</text><text class="k" x="-6" y="-80">0.04</text><text class="k" x="-6" y="-38">0.02</text><text class="k" x="-6" y="4">0</text>
<text class="x" x="38" y="17">ME (B)</text><text class="x" x="116" y="17">Dura (B)</text>
<text class="t" x="10" y="-194">NHC-extract injected Ms4</text>
<text class="y" transform="translate(-54,-95) rotate(-90)">Clonotype molecule frequency</text>
<g>
<rect x="168" y="-184" width="9" height="10" fill="#EE4A8D"/><rect x="168" y="-168" width="9" height="10" fill="#50D3E3"/><rect x="168" y="-152" width="9" height="10" fill="#EE9049"/><rect x="168" y="-136" width="9" height="10" fill="#8F5CB8"/><rect x="168" y="-120" width="9" height="10" fill="#46C38A"/><rect x="168" y="-104" width="9" height="10" fill="#EE4230"/><rect x="168" y="-88" width="9" height="10" fill="#5F69B6"/></g>
<g class="l"><text x="188" y="-175">CASSYGTGRAHVTQYF TRBV29 TRBJ2-3</text><text x="188" y="-159">CASSSNNYAEQFF TRBV14 TRBJ2-1</text><text x="188" y="-143">CGARVTGGAETLYF TRBV20 TRBJ2-3</text><text x="188" y="-127">CAWSLGGPRSQNTLYF TRBV31 TRBJ2-4</text><text x="188" y="-111">CASSLGAGGSDYTF TRBV12-2 TRBJ1-2</text><text x="188" y="-95">CASSGGYAEQFF TRBV13-1 TRBJ2-1</text><text x="188" y="-79">CASSPGQYEQYF TRBV14 TRBJ2-7</text></g>
</g>
</svg>
</body></html>
